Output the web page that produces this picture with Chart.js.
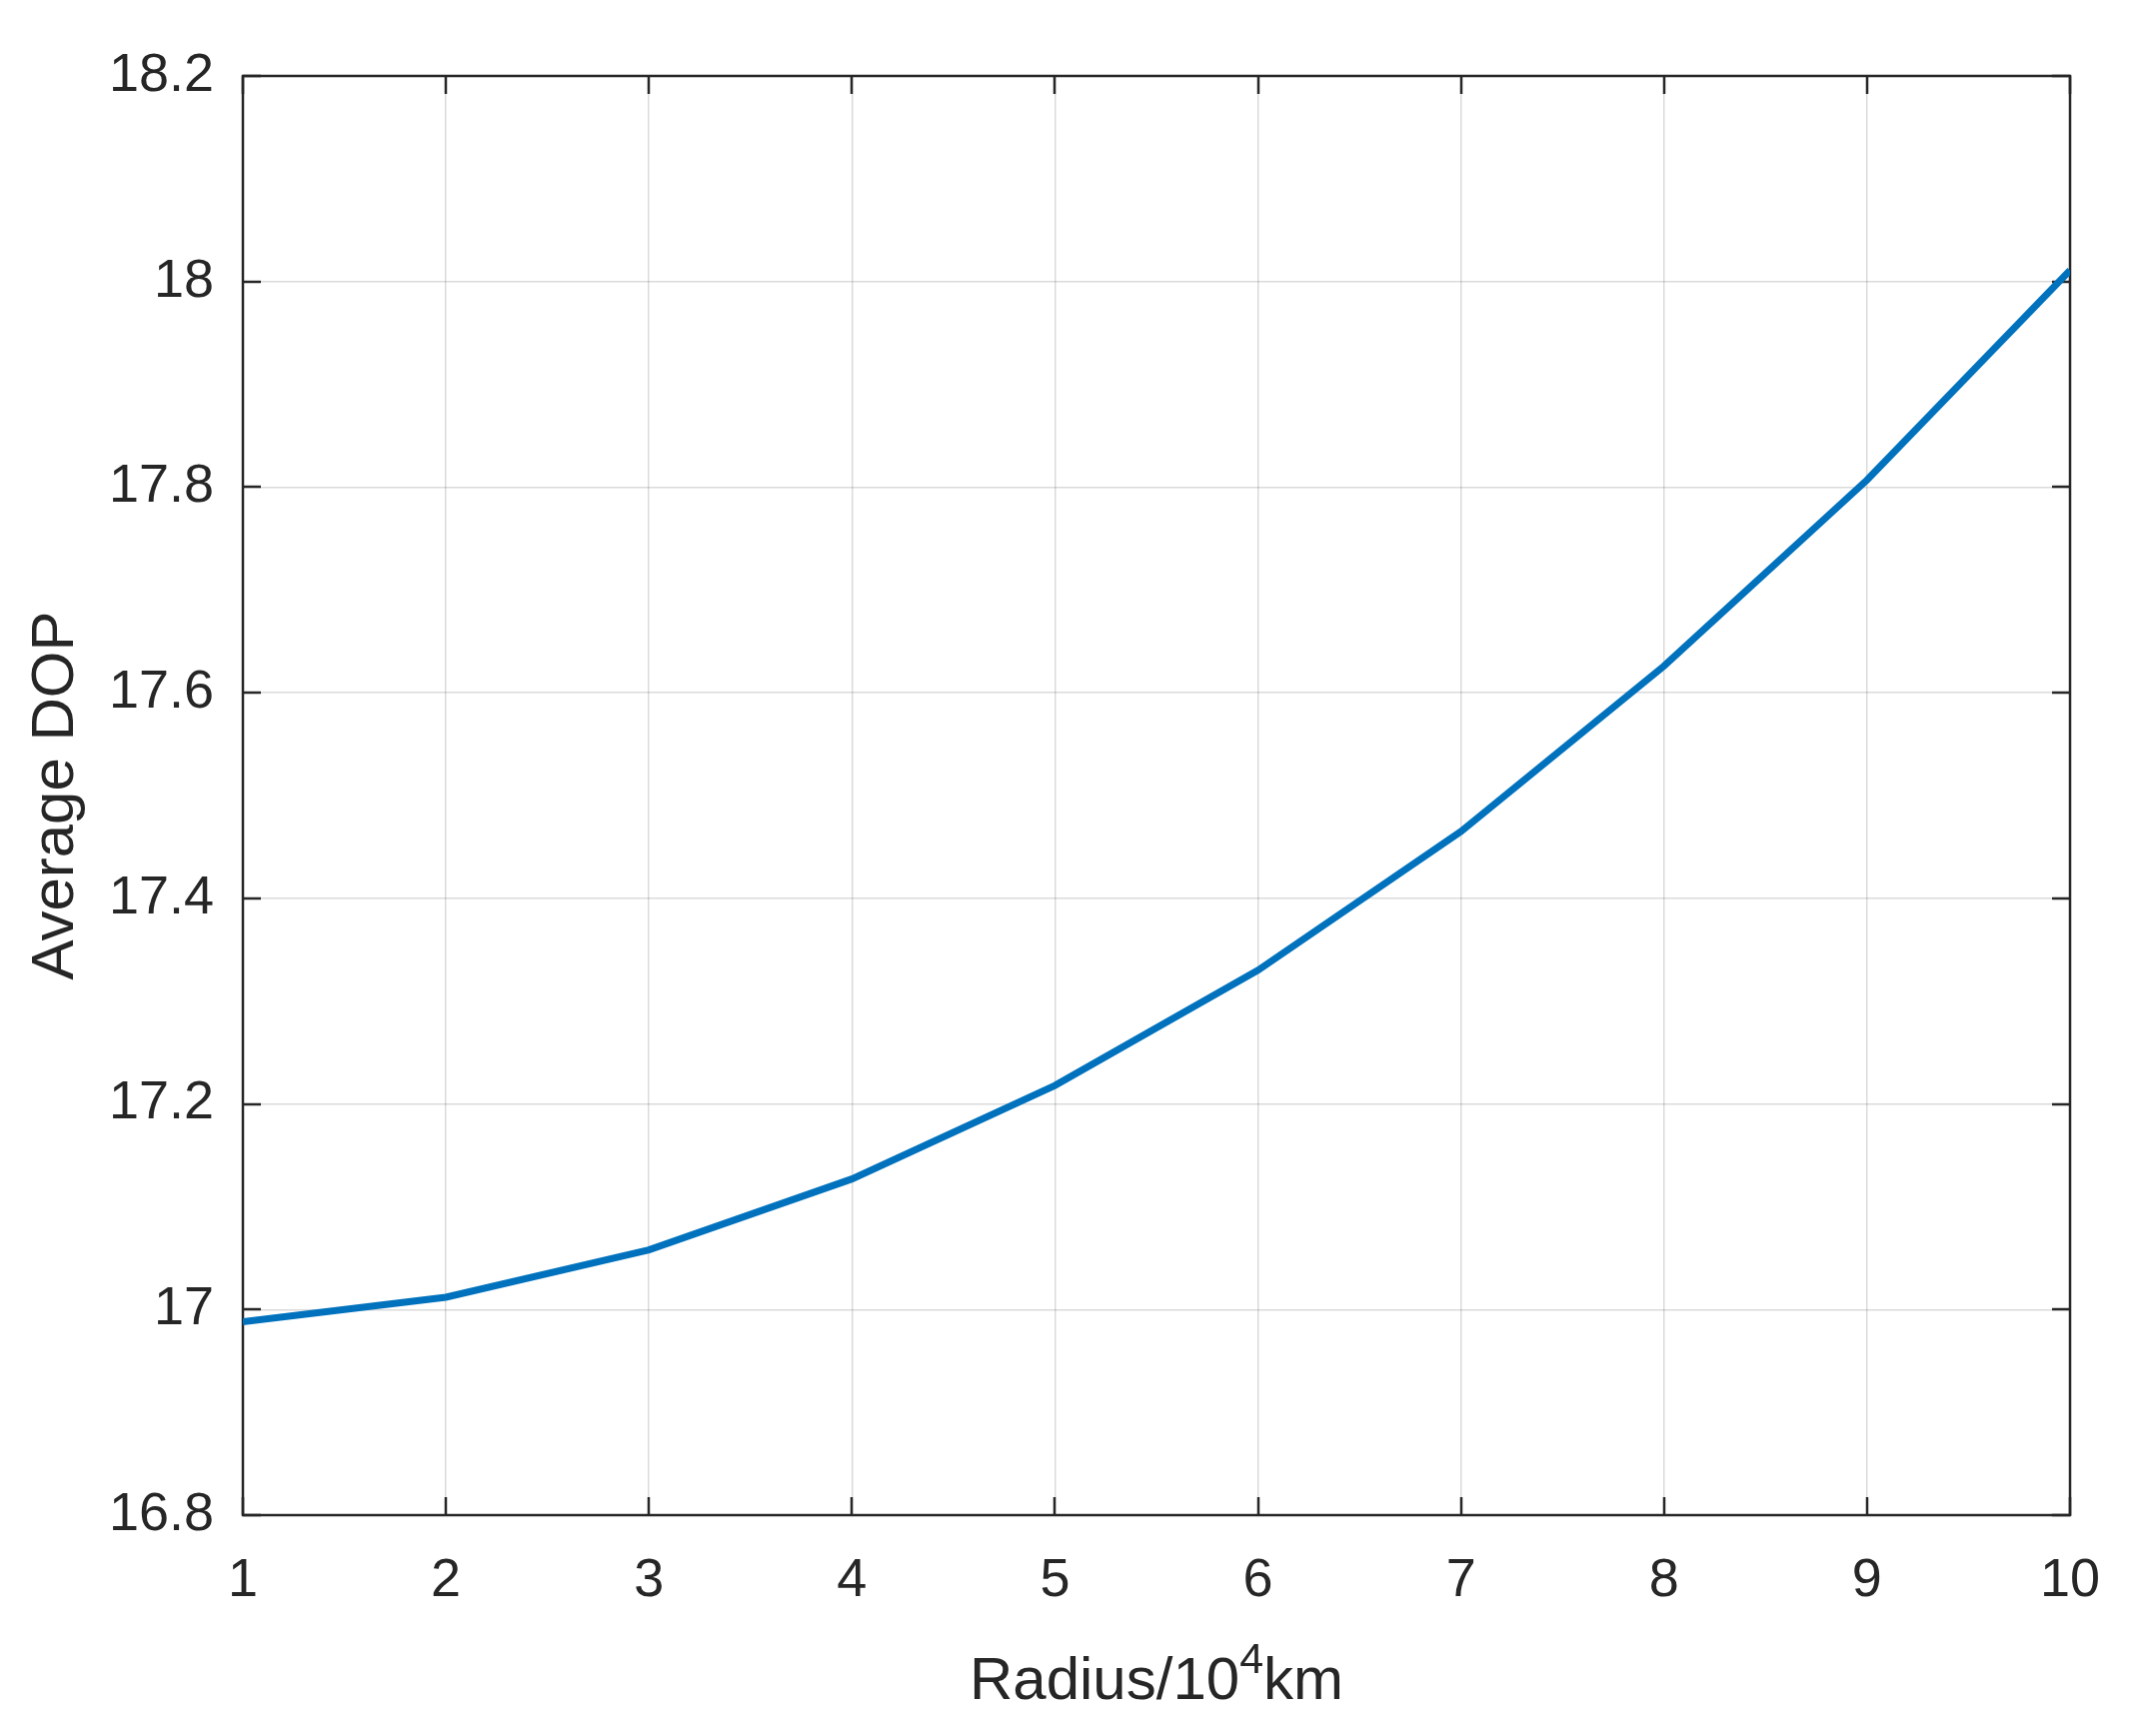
<!DOCTYPE html>
<html>
<head>
<meta charset="utf-8">
<script src="https://cdn.jsdelivr.net/npm/chart.js@4.4.0/dist/chart.umd.min.js"></script>
<style>
  html, body { margin: 0; padding: 0; background: #ffffff; }
  canvas { display: block; }
</style>
</head>
<body>
<canvas id="c" width="2139" height="1737"></canvas>
<script>
// ---- data ----
const radius = [1, 2, 3, 4, 5, 6, 7, 8, 9, 10];
const avgDOP = [16.988, 17.012, 17.058, 17.127, 17.218, 17.330, 17.465, 17.626, 17.807, 18.011];
const xTickLabels = ['1', '2', '3', '4', '5', '6', '7', '8', '9', '10'];
const yTickLabels = ['16.8', '17', '17.2', '17.4', '17.6', '17.8', '18', '18.2'];
const xTitleParts = ['Radius/10', '4', 'km'];   // "Radius/10^4km"
const yTitle = 'Average DOP';

const FONT = "'Liberation Sans', Arial, Helvetica, sans-serif";
const INK = '#262626';
const TITLE_SIZE = 60;

// box + inward tick marks (MATLAB style) + x title with superscript
const boxPlugin = {
  id: 'boxPlugin',
  beforeDatasetsDraw(chart) {
    const {ctx, chartArea: a, scales} = chart;
    const tl = 18;
    ctx.save();
    ctx.strokeStyle = INK;
    ctx.lineWidth = 2.5;
    ctx.beginPath();
    scales.x.ticks.forEach(t => {
      const px = Math.round(scales.x.getPixelForValue(t.value));
      ctx.moveTo(px, a.bottom); ctx.lineTo(px, a.bottom - tl);
      ctx.moveTo(px, a.top); ctx.lineTo(px, a.top + tl);
    });
    scales.y.ticks.forEach(t => {
      const py = Math.round(scales.y.getPixelForValue(t.value));
      ctx.moveTo(a.left, py); ctx.lineTo(a.left + tl, py);
      ctx.moveTo(a.right, py); ctx.lineTo(a.right - tl, py);
    });
    ctx.stroke();
    ctx.strokeRect(a.left, a.top, a.right - a.left, a.bottom - a.top);
    ctx.restore();
  },
  afterDraw(chart) {
    const {ctx, chartArea: a} = chart;
    const main = TITLE_SIZE + 'px ' + FONT;
    const sup = Math.round(TITLE_SIZE * 0.72) + 'px ' + FONT;
    ctx.save();
    ctx.fillStyle = INK;
    ctx.textBaseline = 'alphabetic';
    ctx.textAlign = 'left';
    ctx.font = main;
    const w0 = ctx.measureText(xTitleParts[0]).width;
    const w2 = ctx.measureText(xTitleParts[2]).width;
    ctx.font = sup;
    const w1 = ctx.measureText(xTitleParts[1]).width;
    const total = w0 + w1 + w2;
    const cx = (a.left + a.right) / 2;
    let x = cx - total / 2;
    const base = 1700;
    ctx.font = main;
    ctx.fillText(xTitleParts[0], x, base);
    x += w0;
    ctx.font = sup;
    ctx.fillText(xTitleParts[1], x, base - 26);
    x += w1;
    ctx.font = main;
    ctx.fillText(xTitleParts[2], x, base);
    ctx.restore();
  }
};

new Chart(document.getElementById('c'), {
  type: 'line',
  data: {
    datasets: [{
      data: radius.map((r, i) => ({x: r, y: avgDOP[i]})),
      borderColor: '#0072BD',
      borderWidth: 7,
      pointRadius: 0,
      tension: 0,
      fill: false
    }]
  },
  options: {
    responsive: false,
    animation: false,
    devicePixelRatio: 1,
    layout: { padding: { top: 76, right: 68, left: 0, bottom: 0 } },
    plugins: { legend: { display: false }, tooltip: { enabled: false } },
    scales: {
      x: {
        type: 'linear',
        min: 1, max: 10,
        afterFit(s) { s.height = 1737 - 1516; },
        grid: { color: 'rgba(38,38,38,0.17)', lineWidth: 1.5, drawTicks: false },
        border: { display: false },
        ticks: {
          stepSize: 1,
          padding: 34,
          color: INK,
          font: { family: FONT, size: 54 },
          maxRotation: 0,
          callback: (v, i) => xTickLabels[i]
        },
        title: { display: false }
      },
      y: {
        type: 'linear',
        min: 16.8, max: 18.2,
        afterFit(s) { s.width = 243; },
        grid: { color: 'rgba(38,38,38,0.17)', lineWidth: 1.5, drawTicks: false },
        border: { display: false },
        ticks: {
          stepSize: 0.2,
          padding: 29,
          color: INK,
          font: { family: FONT, size: 54 },
          callback: (v, i) => yTickLabels[i]
        },
        title: {
          display: true,
          text: yTitle,
          color: INK,
          font: { family: FONT, size: TITLE_SIZE },
          padding: { top: 20, bottom: 0 }
        }
      }
    }
  },
  plugins: [boxPlugin]
});
</script>
</body>
</html>
